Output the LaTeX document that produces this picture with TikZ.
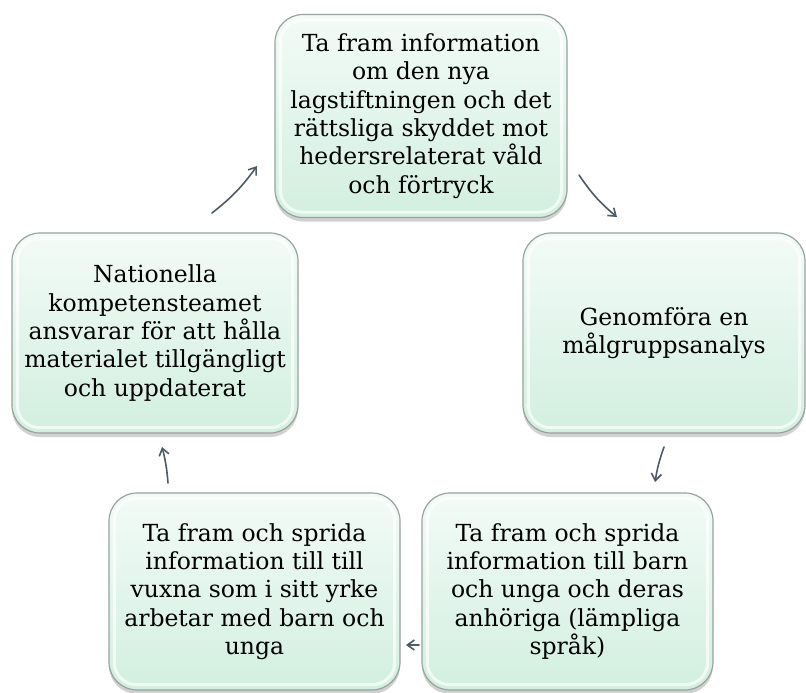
\documentclass[tikz,border=0pt]{standalone}
\usepackage{fontspec}
\setmainfont{DejaVu Serif}
\usetikzlibrary{arrows.meta,shadows}
\definecolor{arrowc}{HTML}{4E5A66}
\definecolor{mintA}{HTML}{F3FBF7}
\definecolor{mintB}{HTML}{D2EFDF}
\definecolor{edgec}{HTML}{98A29F}
\tikzset{
  box/.style={rounded corners=28pt, draw=edgec, line width=1.2pt,
    top color=mintA, bottom color=mintB, align=center, inner sep=0pt,
    font=\fontsize{23.5}{28.3}\selectfont, text=black,
    drop shadow={shadow xshift=0pt, shadow yshift=-4pt, opacity=0.3, fill=black!60}},
  glow/.style={draw=white, line width=3pt, opacity=0.7, rounded corners=22pt},
  cyc/.style={draw=arrowc, line width=1.6pt, line cap=round,
    -{Straight Barb[length=7pt,width=10pt]}}
}
\begin{document}
\begin{tikzpicture}[x=1pt,y=-1pt]
\useasboundingbox (0,0) rectangle (806,693);
\node[box, minimum width=292pt, minimum height=203pt] (top) at (421,116)
  {Ta fram information\\om den nya\\lagstiftningen och det\\rättsliga skyddet mot\\hedersrelaterat våld\\och förtryck};
\node[box, minimum width=282pt, minimum height=200pt] (right) at (664,333)
  {Genomföra en\\målgruppsanalys};
\node[box, minimum width=286pt, minimum height=200pt] (left) at (155,333)
  {Nationella\\kompetensteamet\\ansvarar för att hålla\\materialet tillgängligt\\och uppdaterat};
\node[box, minimum width=291pt, minimum height=197pt] (bl) at (254.5,591.5)
  {Ta fram och sprida\\information till till\\vuxna som i sitt yrke\\arbetar med barn och\\unga};
\node[box, minimum width=291pt, minimum height=197pt] (br) at (567.5,591.5)
  {Ta fram och sprida\\information till barn\\och unga och deras\\anhöriga (lämpliga\\språk)};
\foreach \n in {top,right,left,bl,br}{
  \draw[glow] ([shift={(6,6)}]\n.north west) rectangle ([shift={(-6,-6)}]\n.south east);
}
\coordinate (a1s) at (212,213); \coordinate (a1e) at (257,166);
\coordinate (a2s) at (579,175); \coordinate (a2e) at (617,217);
\coordinate (a3s) at (664,447); \coordinate (a3e) at (655,482);
\coordinate (a4s) at (419,645); \coordinate (a4e) at (406,645);
\coordinate (a5s) at (168,483); \coordinate (a5e) at (162,447);
\draw[cyc] (a1s) to[bend right=8] (a1e);
\draw[cyc] (a2s) to[bend right=8] (a2e);
\draw[cyc] (a3s) to[bend right=5] (a3e);
\draw[cyc] (a4s) -- (a4e);
\draw[cyc] (a5s) to[bend right=5] (a5e);
\end{tikzpicture}
\end{document}
